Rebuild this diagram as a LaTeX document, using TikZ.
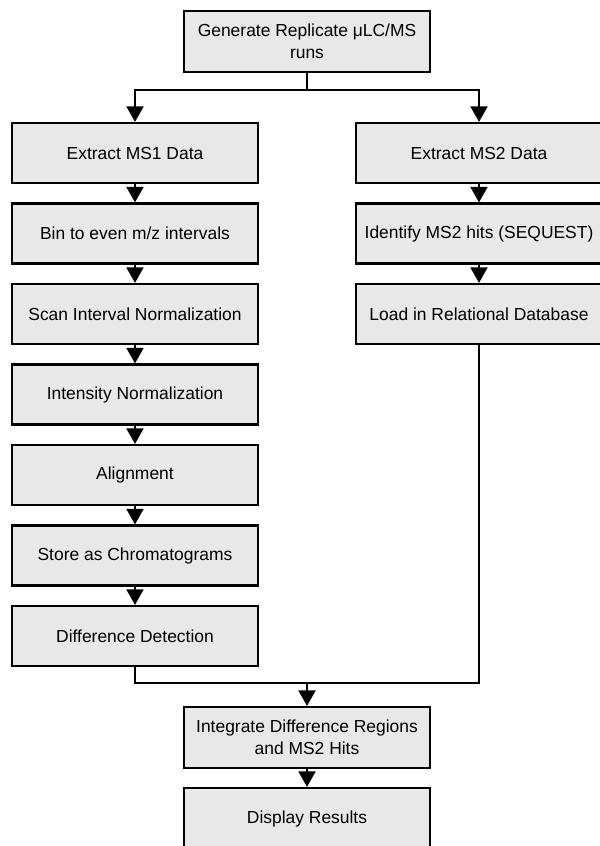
\documentclass[tikz,border=0pt]{standalone}
\usepackage{fontspec}
\setmainfont{Liberation Sans}
\usetikzlibrary{arrows.meta}

\definecolor{boxgray}{HTML}{E8E8E8}

\tikzset{
    stepbox/.style={draw, line width=1.5pt, fill=boxgray, align=center,
        minimum width=6.15cm, minimum height=1.5cm, inner sep=2pt,
        font=\fontsize{12.4pt}{15.6pt}\selectfont},
    link/.style={line width=1.5pt},
    arr/.style={link, -{Triangle[width=12pt, length=11pt]}}
}

\begin{document}
\begin{tikzpicture}[x=0.025cm, y=-0.025cm]

    \useasboundingbox (0, 0) rectangle (599, 846);

    \node[stepbox, minimum height=1.525cm] (gen) at (307, 41.5) {Generate Replicate μLC/MS\\runs};

    \foreach \name/\label [count=\i from 0] in {ms1/{Extract MS1 Data}, bin/{Bin to even m/z intervals}, scan/{Scan Interval Normalization}, inten/{Intensity Normalization}, align/{Alignment}, store/{Store as Chromatograms}, diff/{Difference Detection}}
        \node[stepbox] (\name) at (135, 153 + 80.5*\i) {\label};

    \foreach \name/\label [count=\i from 0] in {ms2/{Extract MS2 Data}, ident/{Identify MS2 hits (SEQUEST)}, load/{Load in Relational Database}}
        \node[stepbox] (\name) at (479, 153 + 80.5*\i) {\label};

    \node[stepbox, minimum height=1.525cm] (integ) at (307, 737.5) {Integrate Difference Regions\\and MS2 Hits};
    \node[stepbox, minimum height=1.525cm] (show) at (307, 818.5) {Display Results};

    \coordinate (split) at (307, 90);
    \coordinate (join) at (307, 683);

    \draw[link] (gen) -- (split);
    \draw[arr] (split) -| (ms1);
    \draw[arr] (split) -| (ms2);

    \foreach \A/\B in {ms1/bin, bin/scan, scan/inten, inten/align, align/store, store/diff, ms2/ident, ident/load, integ/show}
        \draw[arr] (\A) -- (\B);

    \draw[link] (diff) |- (join);
    \draw[link] (load) |- (join);
    \draw[arr] (join) -- (integ);

\end{tikzpicture}
\end{document}
